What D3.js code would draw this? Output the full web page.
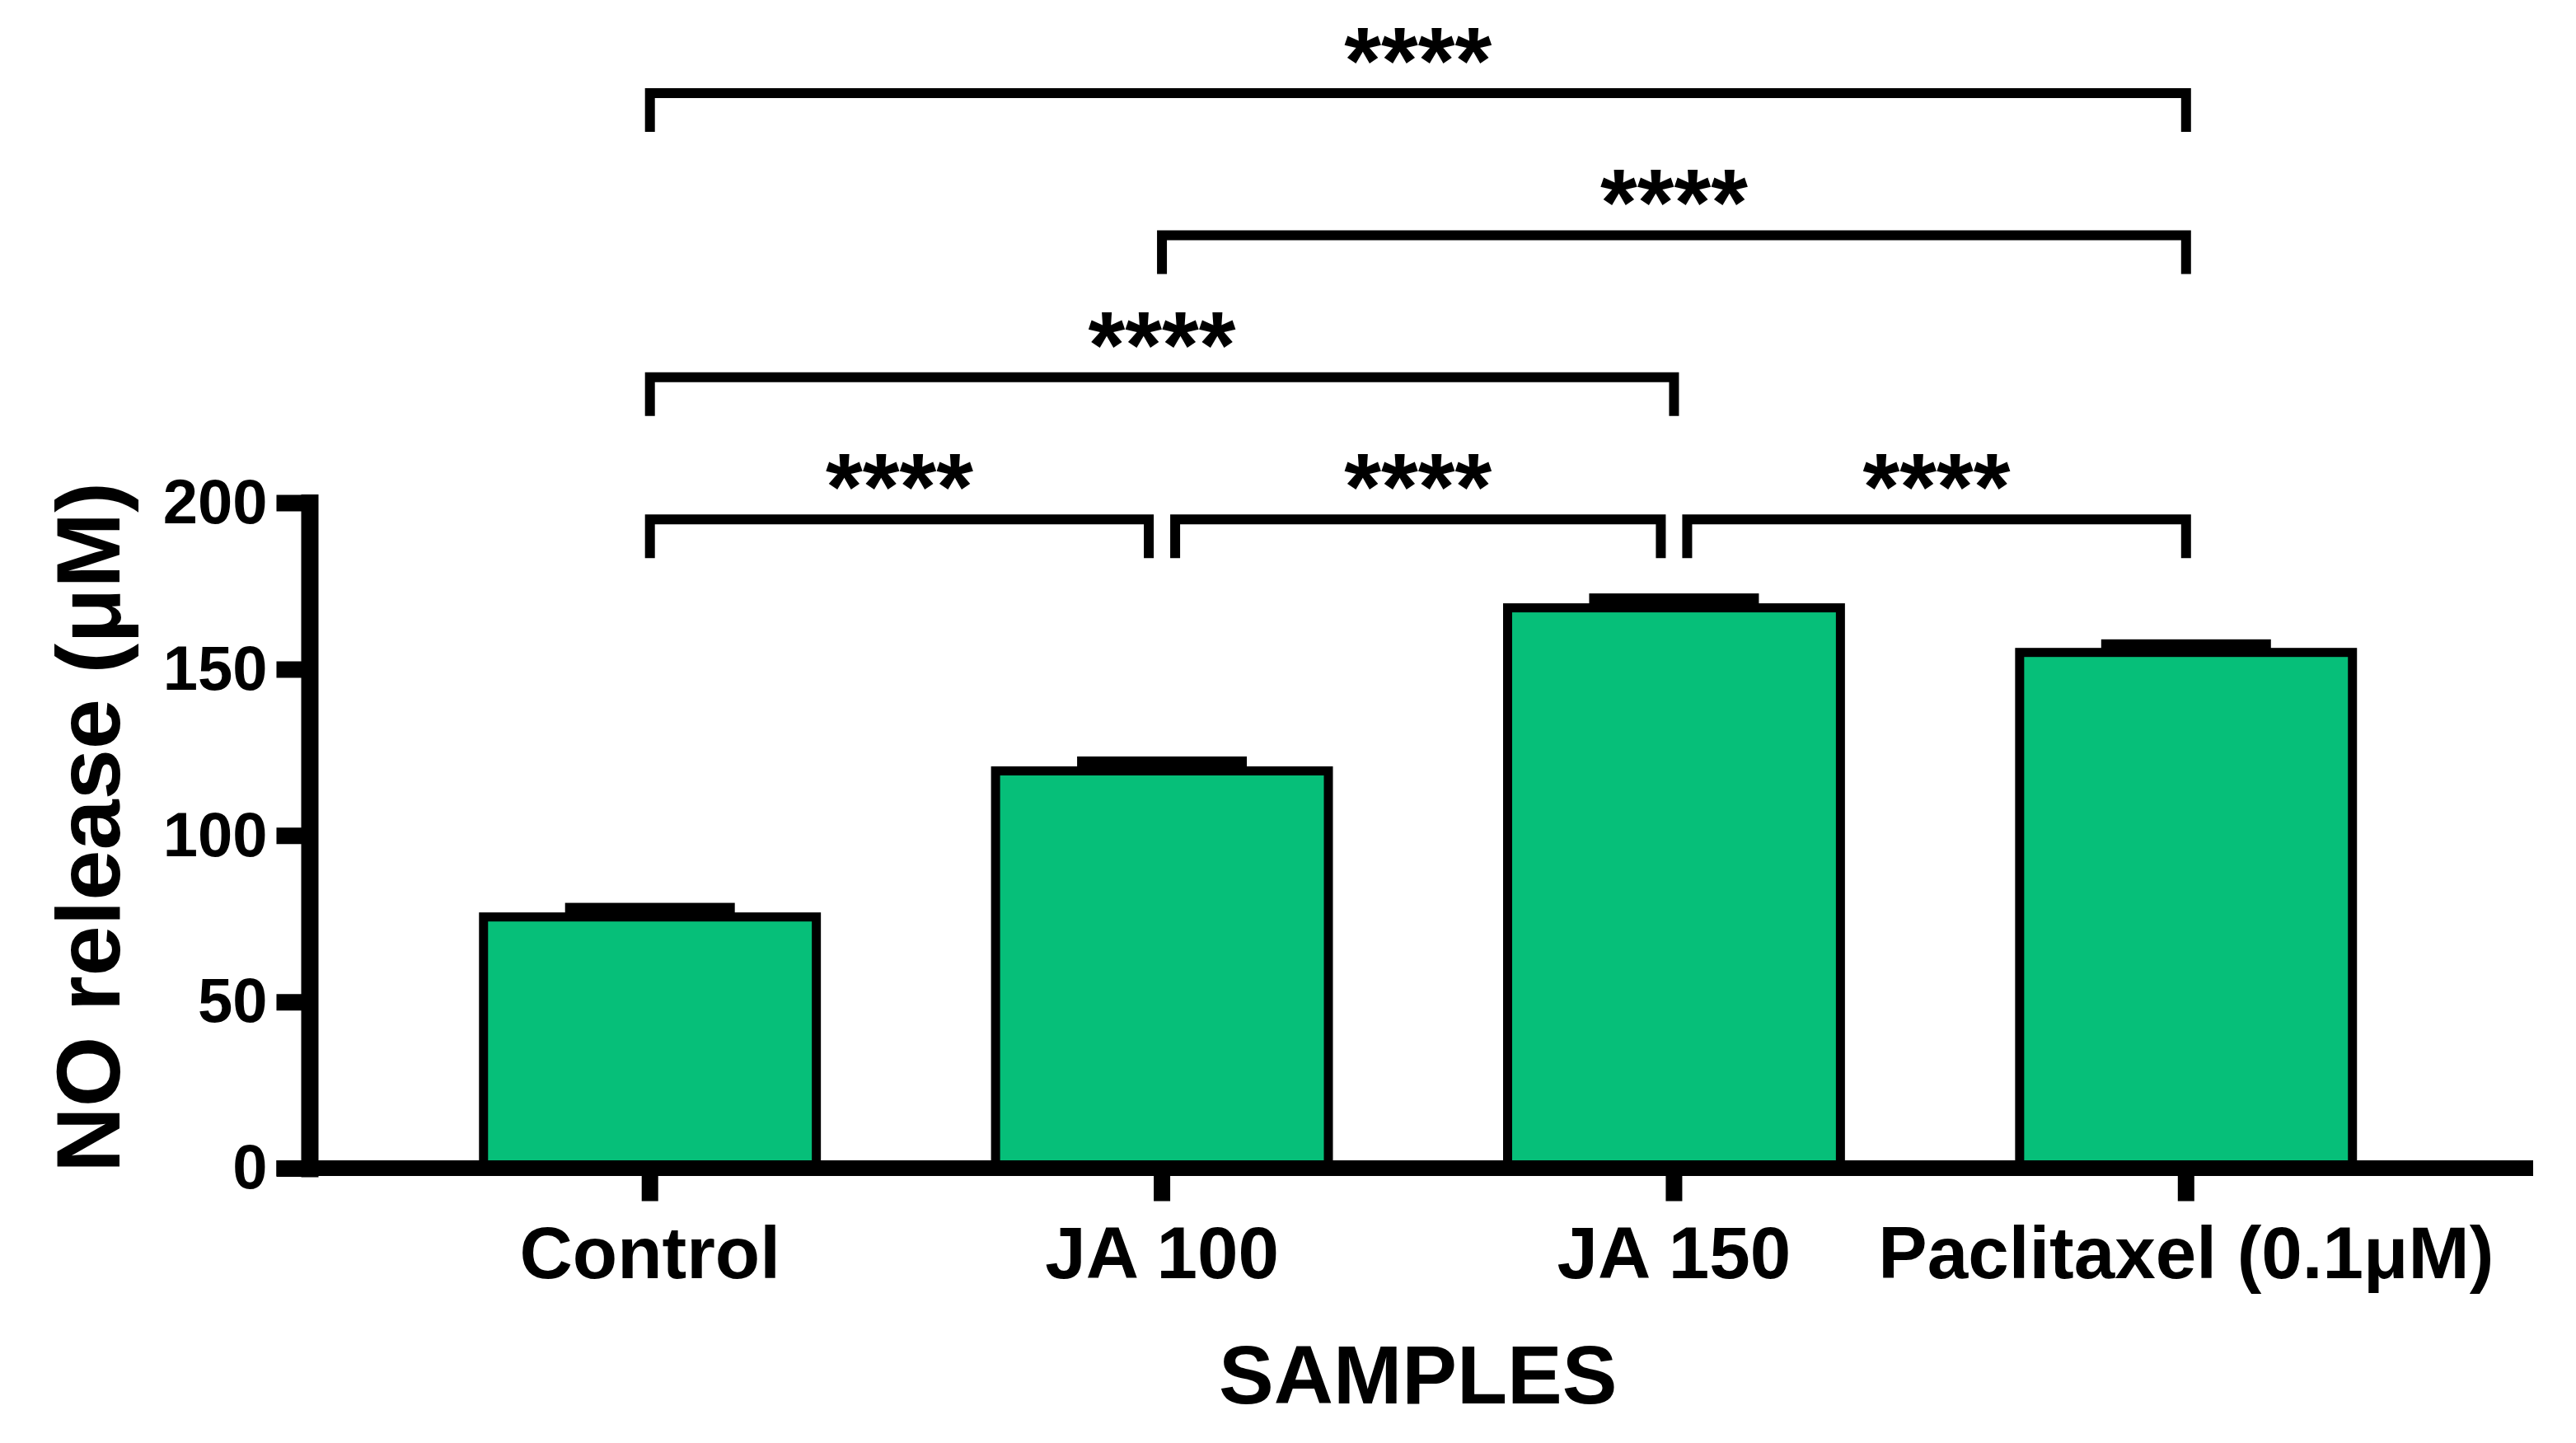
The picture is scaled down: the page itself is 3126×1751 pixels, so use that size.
<!DOCTYPE html>
<html>
<head>
<meta charset="utf-8">
<script src="https://cdn.jsdelivr.net/npm/d3@7"></script>
<style>
  body { margin: 0; background: #fff; }
  text { font-family: "Liberation Sans", Arial, sans-serif; font-weight: bold; fill: #000; }
</style>
</head>
<body>
<svg id="chart" width="3126" height="1751"></svg>
<script>
// data
const categories = ["Control", "JA 100", "JA 150", "Paclitaxel (0.1μM)"];
const means = [75.5, 119.4, 168.4, 155];
const errors = [2.5, 2.6, 2.6, 2.2];
const yTicks = [0, 50, 100, 150, 200];

// significance brackets
const pairFrom = ["Control", "JA 100", "JA 150", "Control", "JA 100", "Control"];
const pairTo = ["JA 100", "JA 150", "Paclitaxel (0.1μM)", "JA 150", "Paclitaxel (0.1μM)", "Paclitaxel (0.1μM)"];
const pairLevel = [0, 0, 0, 1, 2, 3];
const pairLabel = ["****", "****", "****", "****", "****", "****"];

const svg = d3.select("#chart");
svg.append("rect").attr("width", 3126).attr("height", 1751).attr("fill", "#fff");

const axisW = 20;
const green = "#06bf79";

let x = d3.scaleBand()
  .domain(categories)
  .range([375.5, 3066])
  .paddingInner(0.35)
  .paddingOuter(0.34);

let y = d3.scaleLinear()
  .domain([0, 200])
  .range([1417.5, 610]);

// bars
svg.selectAll(".bar")
  .data(categories)
  .enter().append("rect")
  .attr("class", "bar")
  .attr("x", d => x(d))
  .attr("width", x.bandwidth())
  .attr("y", (d, i) => y(means[i]))
  .attr("height", (d, i) => y(0) - y(means[i]))
  .attr("fill", green)
  .attr("stroke", "#000")
  .attr("stroke-width", 11);

// error bars (upper only)
let capW = x.bandwidth() * 0.51;
let err = svg.append("g");
categories.forEach(function(c, i) {
  let cx = x(c) + x.bandwidth() / 2;
  err.append("line")
    .attr("x1", cx).attr("x2", cx)
    .attr("y1", y(means[i])).attr("y2", y(means[i] + errors[i]))
    .attr("stroke", "#000").attr("stroke-width", 11);
  err.append("rect")
    .attr("x", cx - capW / 2).attr("width", capW)
    .attr("y", y(means[i] + errors[i]) - 7)
    .attr("height", y(means[i]) - y(means[i] + errors[i]) + 7)
    .attr("fill", "#000");
});

// y axis
let yAxis = svg.append("g")
  .attr("transform", "translate(" + x.range()[0] + ",0)")
  .call(d3.axisLeft(y).tickValues(yTicks).tickSize(40).tickSizeOuter(0).tickPadding(11));
yAxis.select(".domain")
  .attr("stroke-width", axisW + 1)
  .attr("stroke-linecap", "square");
yAxis.selectAll(".tick line").attr("stroke-width", axisW);
yAxis.selectAll(".tick text")
  .attr("font-size", 76)
  .attr("font-family", null);

// x axis
let x0 = x.range()[0] - 40;
let xAxis = svg.append("g")
  .attr("transform", "translate(0," + y(0) + ")")
  .call(d3.axisBottom(x).tickSize(40).tickSizeOuter(0).tickPadding(30));
xAxis.select(".domain").remove();
xAxis.insert("line", ":first-child")
  .attr("x1", x0).attr("x2", x.range()[1] + 8)
  .attr("stroke", "#000").attr("stroke-width", axisW - 1);
xAxis.selectAll(".tick line").attr("stroke-width", axisW);
xAxis.selectAll(".tick text")
  .attr("font-size", 89)
  .attr("font-family", null);

// axis titles
svg.append("text")
  .attr("transform", "translate(145," + 1004 + ") rotate(-90)")
  .attr("text-anchor", "middle")
  .attr("font-size", 110)
  .text("NO release (μM)");

svg.append("text")
  .attr("x", (x.range()[0] + x.range()[1]) / 2)
  .attr("y", 1703)
  .attr("text-anchor", "middle")
  .attr("font-size", 100)
  .text("SAMPLES");

// brackets
const levelBase = 195, levelStep = 42.7, legDrop = 47, nudge = 16;
let br = svg.append("g");
pairFrom.forEach(function(a, i) {
  let lvl = pairLevel[i];
  let xa = x(a) + x.bandwidth() / 2;
  let xb = x(pairTo[i]) + x.bandwidth() / 2;
  // nudge ends that share a category with a neighbouring bracket on the same level
  pairFrom.forEach(function(a2, j) {
    if (j !== i && pairLevel[j] === lvl) {
      if (pairTo[j] === a) xa += nudge;
      if (a2 === pairTo[i]) xb -= nudge;
    }
  });
  let yl = y(levelBase + lvl * levelStep);
  br.append("path")
    .attr("d", "M" + xa + "," + (yl + legDrop) + "V" + yl + "H" + xb + "V" + (yl + legDrop))
    .attr("fill", "none")
    .attr("stroke", "#000")
    .attr("stroke-width", 12)
    .attr("stroke-linejoin", "miter");
  br.append("text")
    .attr("x", (xa + xb) / 2)
    .attr("y", yl)
    .attr("text-anchor", "middle")
    .attr("font-size", 115)
    .text(pairLabel[i]);
});
</script>
</body>
</html>
